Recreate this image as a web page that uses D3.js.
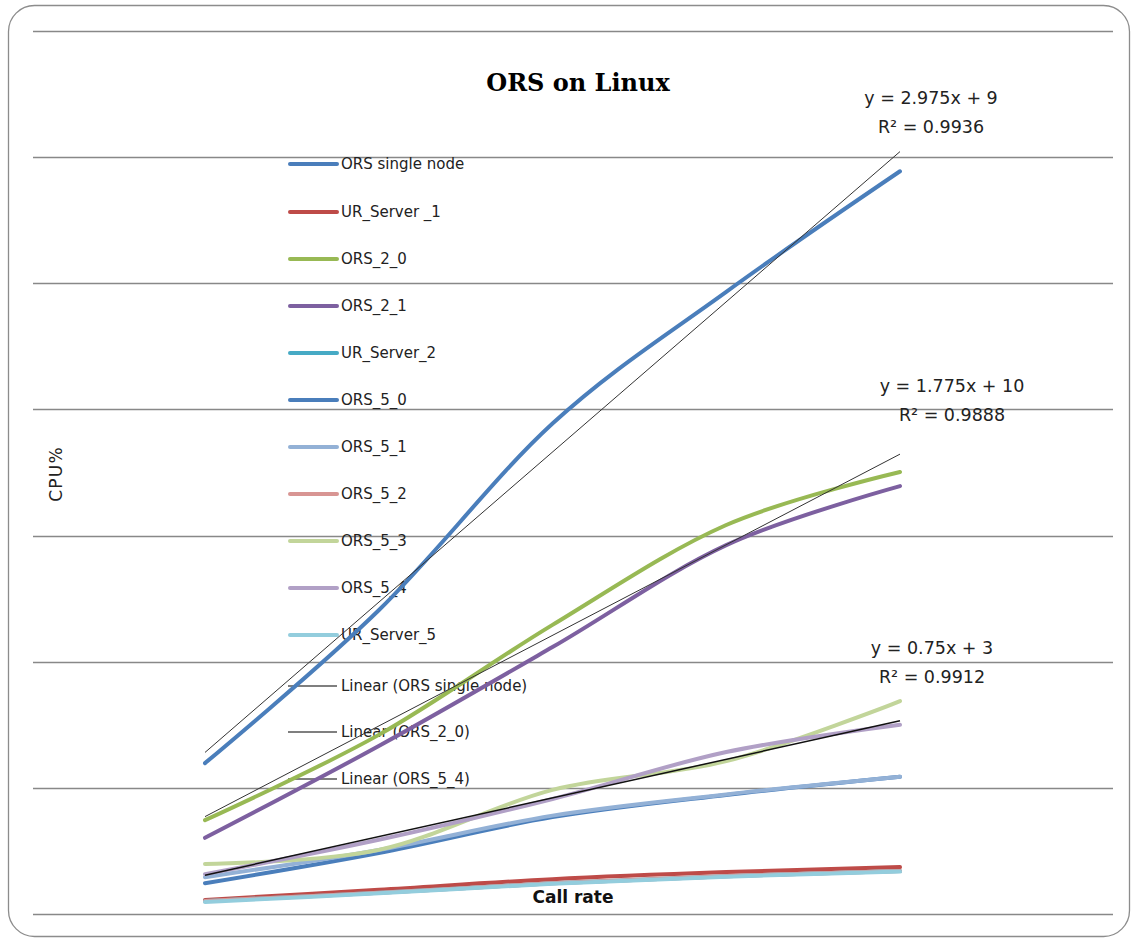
<!DOCTYPE html>
<html>
<head>
<meta charset="utf-8">
<script src="https://cdn.jsdelivr.net/npm/d3@7"></script>
<style>
  body { margin: 0; background: #fff; }
  text { font-family: "DejaVu Sans", sans-serif; fill: #222; }
</style>
</head>
<body>
<svg></svg>
<script>
var screen = {width: 1132, height: 941};

// call rate steps (no tick labels shown on the chart)
var callRate = [1, 2, 3, 4, 5];

// CPU% per series
var orsSingle  = [2.99, 6.02, 9.72, 12.33, 14.72];
var urServer1  = [0.28, 0.48, 0.69, 0.83, 0.93];
var ors20      = [1.86, 3.55, 5.73, 7.71, 8.76];
var ors21      = [1.51, 3.33, 5.29, 7.31, 8.48];
var urServer2  = [0.26, 0.42, 0.61, 0.75, 0.85];
var ors50      = [0.61, 1.21, 1.92, 2.36, 2.72];
var ors51      = [0.73, 1.27, 1.95, 2.37, 2.72];
var ors52      = [0.26, 0.42, 0.61, 0.75, 0.85];
var ors53      = [0.99, 1.27, 2.46, 3.03, 4.22];
var ors54      = [0.79, 1.47, 2.28, 3.21, 3.75];
var urServer5  = [0.24, 0.41, 0.60, 0.74, 0.84];

var seriesNames = ["ORS single node", "UR_Server _1", "ORS_2_0", "ORS_2_1", "UR_Server_2",
                   "ORS_5_0", "ORS_5_1", "ORS_5_2", "ORS_5_3", "ORS_5_4", "UR_Server_5"];
var seriesColors = ["#4a7ebb", "#be4b48", "#98b954", "#7d60a0", "#46aac5",
                    "#4a7ebb", "#93b1d6", "#d89593", "#c2d59a", "#b1a0c6", "#93cddd"];
var seriesValues = [orsSingle, urServer1, ors20, ors21, urServer2,
                    ors50, ors51, ors52, ors53, ors54, urServer5];

// trendlines: which series, plus the labels Excel printed
var trendOf = [0, 2, 9];
var trendNames = ["Linear (ORS single node)", "Linear (ORS_2_0)", "Linear (ORS_5_4)"];
var trendEq = ["y = 2.975x + 9", "y = 1.775x + 10", "y = 0.75x + 3"];
var trendR2 = ["R\u00b2 = 0.9936", "R\u00b2 = 0.9888", "R\u00b2 = 0.9912"];

var gridTicks = [0, 2.5, 5, 7.5, 10, 12.5, 15, 17.5];

// where excel left the equation boxes
var eqPos = [{x: 931, y: 104}, {x: 952, y: 392}, {x: 932, y: 654}];

var svg = d3.select("svg")
    .attr("width", screen.width)
    .attr("height", screen.height);

// chart border
svg.append("rect")
    .attr("x", 8.5).attr("y", 5.5)
    .attr("width", 1121).attr("height", 931)
    .attr("rx", 26).attr("ry", 26)
    .attr("fill", "#fff")
    .attr("stroke", "#8c8c8c")
    .attr("stroke-width", 1.3);

var xScale = d3.scalePoint()
    .domain(callRate)
    .range([205, 900]);

var yScale = d3.scaleLinear()
    .domain([0, 17.5])
    .range([914, 31]);

// gridlines
svg.append("g")
    .attr("id", "grid")
    .selectAll("line")
    .data(gridTicks)
    .enter()
    .append("line")
    .attr("x1", 33)
    .attr("x2", 1113)
    .attr("y1", function(d){ return Math.round(yScale(d)) + 0.5; })
    .attr("y2", function(d){ return Math.round(yScale(d)) + 0.5; })
    .attr("stroke", "#888")
    .attr("stroke-width", 1.3);

// title and axis titles
svg.append("text")
    .attr("x", 578).attr("y", 91)
    .attr("text-anchor", "middle")
    .style("font-family", "'DejaVu Serif', serif")
    .style("font-weight", "bold")
    .style("font-size", "24px")
    .style("fill", "#000")
    .text("ORS on Linux");

svg.append("text")
    .attr("transform", "translate(62,474) rotate(-90)")
    .attr("text-anchor", "middle")
    .style("font-size", "17px")
    .style("letter-spacing", "1.2px")
    .text("CPU%");

svg.append("text")
    .attr("x", 573).attr("y", 903)
    .attr("text-anchor", "middle")
    .style("font-size", "17px")
    .style("font-weight", "bold")
    .style("fill", "#111")
    .text("Call rate");

// legend (sits under the lines)
var legendRows = seriesNames.map(function(n, i){ return {name: n, color: seriesColors[i], trend: false}; })
    .concat(trendNames.map(function(n){ return {name: n, color: "#000", trend: true}; }));
var legendY = [164, 212, 259, 306, 353, 400, 447, 494, 541, 588, 635, 686, 732, 779];

var lg = svg.append("g")
    .attr("id", "legend")
    .selectAll("g")
    .data(legendRows)
    .enter()
    .append("g")
    .attr("transform", function(d, i){ return "translate(0," + legendY[i] + ")"; });

lg.append("line")
    .attr("x1", function(d){ return d.trend ? 288 : 290; })
    .attr("x2", 337)
    .attr("stroke", function(d){ return d.color; })
    .attr("stroke-width", function(d){ return d.trend ? 1.2 : 4; })
    .attr("stroke-linecap", function(d){ return d.trend ? "butt" : "round"; });

lg.append("text")
    .attr("x", 341)
    .attr("y", 5)
    .style("font-size", "15px")
    .text(function(d){ return d.name; });

// series
var line = d3.line()
    .x(function(d, i){ return xScale(callRate[i]); })
    .y(function(d){ return yScale(d); })
    .curve(d3.curveCatmullRom.alpha(0));

svg.append("g")
    .attr("id", "series")
    .selectAll("path")
    .data(seriesValues)
    .enter()
    .append("path")
    .attr("fill", "none")
    .attr("stroke", function(d, i){ return seriesColors[i]; })
    .attr("stroke-width", 4)
    .attr("stroke-linecap", "round")
    .attr("d", line);

// least squares fit, same as excel's linear trendline
var fit = function(vals){
    var mx = d3.mean(callRate), my = d3.mean(vals);
    var sxy = d3.sum(callRate, function(x, i){ return (x - mx) * (vals[i] - my); });
    var sxx = d3.sum(callRate, function(x){ return (x - mx) * (x - mx); });
    var b = sxy / sxx;
    return {slope: b, icpt: my - b * mx};
};

var trends = trendOf.map(function(s){ return fit(seriesValues[s]); });
var xEnds = [callRate[0], callRate[callRate.length - 1]];

svg.append("g")
    .attr("id", "trends")
    .selectAll("line")
    .data(trends)
    .enter()
    .append("line")
    .attr("x1", xScale(xEnds[0]))
    .attr("x2", xScale(xEnds[1]))
    .attr("y1", function(t){ return yScale(t.icpt + t.slope * xEnds[0]); })
    .attr("y2", function(t){ return yScale(t.icpt + t.slope * xEnds[1]); })
    .attr("stroke", function(t, i){ return i == 2 ? "#111" : "#333"; })
    .attr("stroke-width", function(t, i){ return i == 2 ? 1.5 : 1; });

// trendline labels
var eqG = svg.append("g")
    .attr("id", "eqs")
    .selectAll("g")
    .data(trends)
    .enter()
    .append("g")
    .attr("transform", function(t, i){
        return "translate(" + eqPos[i].x + "," + eqPos[i].y + ")";
    });

eqG.append("text")
    .attr("text-anchor", "middle")
    .style("font-size", "17.5px")
    .text(function(t, i){ return trendEq[i]; });

eqG.append("text")
    .attr("y", 29)
    .attr("text-anchor", "middle")
    .style("font-size", "17.5px")
    .text(function(t, i){ return trendR2[i]; });
</script>
</body>
</html>
